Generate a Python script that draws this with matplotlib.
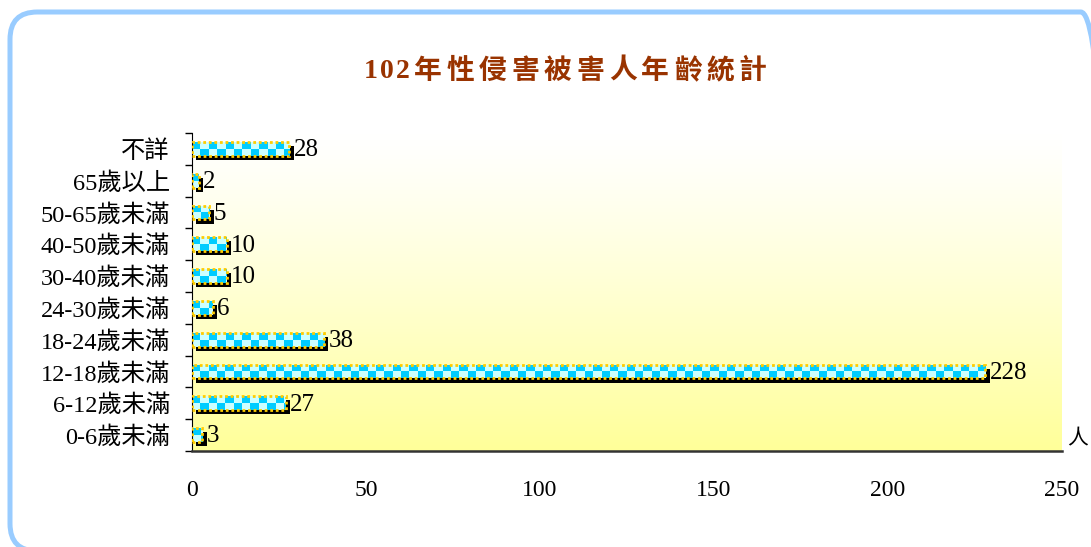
import numpy as np
import matplotlib
matplotlib.use("Agg")
import matplotlib.pyplot as plt
from matplotlib.patches import FancyBboxPatch
import matplotlib.patheffects as pe

plt.rcParams['font.family'] = ['Liberation Serif', 'Noto Sans CJK TC', 'DejaVu Sans']

# 資料（由下而上）
categories = ["0-6歲未滿", "6-12歲未滿", "12-18歲未滿", "18-24歲未滿", "24-30歲未滿",
              "30-40歲未滿", "40-50歲未滿", "50-65歲未滿", "65歲以上", "不詳"]
counts = [3, 27, 228, 38, 6, 10, 10, 5, 2, 28]
xticks = [0, 50, 100, 150, 200, 250]
title = "102年性侵害被害人年齡統計"
unit = "人"

W, H = 1091, 547
fig = plt.figure(figsize=(W / 100, H / 100), dpi=100)

# 外框（圓角藍框，右側與底部略超出畫面）
border = FancyBboxPatch((10 / W, -4 / H), 1098 / W, (H - 12 + 4) / H,
                        boxstyle="round,pad=0,rounding_size=0.025",
                        transform=fig.transFigure, facecolor="none",
                        edgecolor="#99CCFF", linewidth=3.6,
                        mutation_aspect=W / H)
fig.patches.append(border)

ax = fig.add_axes([192 / W, 1 - 451 / H, 870 / W, (451 - 133) / H])
y = np.arange(len(categories))

# 背景漸層（白 -> 淡黃）
grad = np.linspace(0, 1, 256)
bg = np.ones((256, 1, 3))
bg[:, 0, 2] = 1 - 0.40 * grad ** 1.2
ax.imshow(bg, extent=(0, 250, -0.5, len(categories) - 0.5), aspect="auto",
          origin="upper", zorder=0)

bar_h = 0.44
cell = 2.4
bars = ax.barh(y, counts, height=bar_h, color="#CCFFFF", edgecolor="none", zorder=2)
for rect, v, yy in zip(bars, counts, y):
    rect.set_path_effects([pe.SimplePatchShadow(offset=(3, -3), shadow_rgbFace="black",
                                                alpha=1.0), pe.Normal()])
    # 格子圖樣
    ncol = max(int(np.ceil(v / cell)), 1)
    chk = np.zeros((2, ncol, 3))
    for r in range(2):
        for c in range(ncol):
            chk[r, c] = (0.0, 0.8, 1.0) if (r + c) % 2 == 0 else (0.8, 1.0, 1.0)
    im = ax.imshow(chk, extent=(0, ncol * cell, yy - bar_h / 2, yy + bar_h / 2),
                   aspect="auto", interpolation="nearest", zorder=2.5)
    im.set_clip_path(rect)
    ax.barh(yy, v, height=bar_h, color="none", edgecolor="#FFCC00",
            linewidth=2.0, linestyle=(0, (1, 1)), zorder=3)
    ax.annotate(str(v), (v, yy), xytext=(3, -1), textcoords="offset points",
                va="center", ha="left", fontsize=18, zorder=4)

ax.set_xlim(0, 250)
ax.set_ylim(-0.5, len(categories) - 0.5)

ax.set_yticks(y)
ax.set_yticklabels(categories, fontsize=17.5)
ax.set_yticks(np.arange(-0.5, len(categories), 1), minor=True)
ax.tick_params(axis="y", which="major", length=0, pad=16)
ax.tick_params(axis="y", which="minor", length=5, width=1, direction="out")
ax.set_xticks(xticks)
ax.set_xticklabels([str(t) for t in xticks], fontsize=17)
ax.tick_params(axis="x", length=0, pad=21)

for s in ["top", "right"]:
    ax.spines[s].set_visible(False)
ax.spines["left"].set_color("black")
ax.spines["bottom"].set_color("#333333")
ax.spines["bottom"].set_linewidth(1.8)

# 標題（字距加寬）
x0, pitch_digit, pitch_cjk = 362, 16.5, 32.5
xc = x0
for ch in title:
    w = pitch_digit if ch.isdigit() else pitch_cjk
    fig.text((xc + w / 2) / W, 1 - 72 / H, ch, ha="center", va="center",
             fontsize=20, color="#993300", fontweight="bold")
    xc += w

fig.text(1078 / W, 1 - 440 / H, unit, ha="center", va="center", fontsize=15)

fig.savefig("out.png", dpi=100)
